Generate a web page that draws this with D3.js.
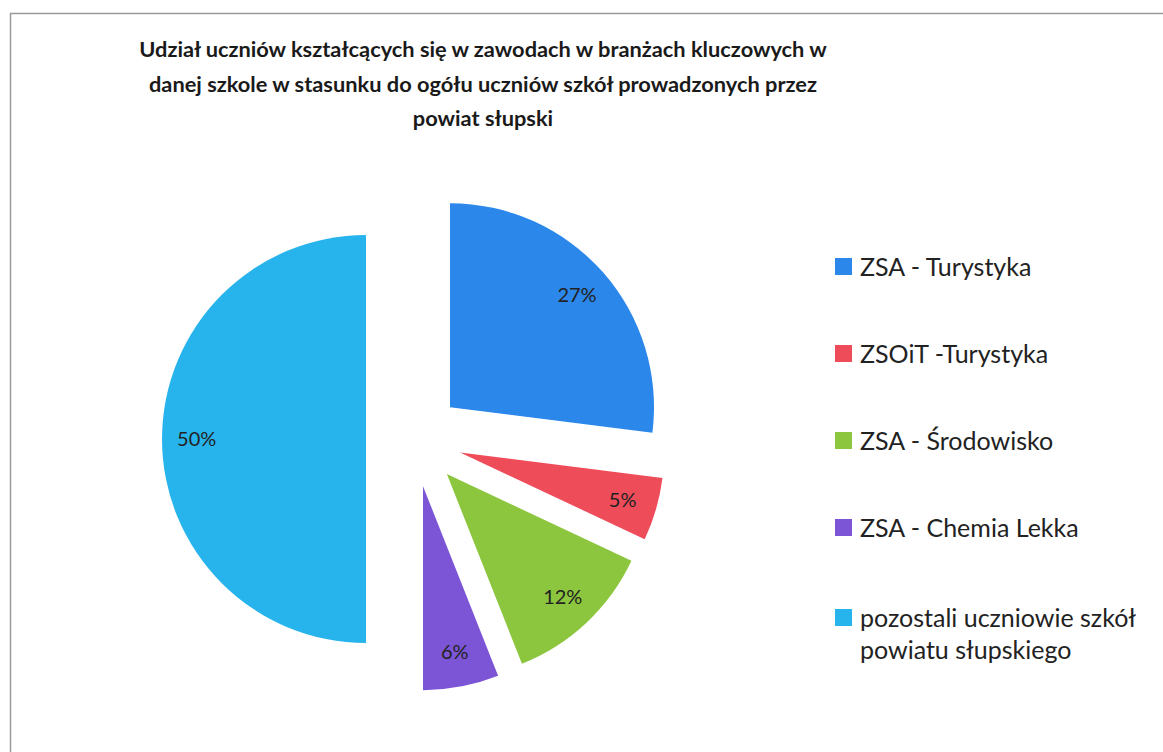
<!DOCTYPE html>
<html>
  <head>
    <meta charset="utf-8">
    <style>
      body { margin: 0; background: #fff; }
      text { font-family: Lato, "Open Sans", sans-serif; }
    </style>
  </head>
  <body>
    <script src="https://d3js.org/d3.v7.min.js"></script>
    <script>
      // chart data
      var categories = ["ZSA - Turystyka", "ZSOiT -Turystyka", "ZSA - Środowisko",
                        "ZSA - Chemia Lekka", "pozostali uczniowie szkół powiatu słupskiego"];
      var values = [27, 5, 12, 6, 50];
      var labels = ["27%", "5%", "12%", "6%", "50%"];
      var colours = ["#2b88ea", "#ef4c5a", "#8cc63e", "#7c55d6", "#27b4ec"];
      var titleLines = ["Udział uczniów kształcących się w zawodach w branżach kluczowych w",
                        "danej szkole w stasunku do ogółu uczniów szkół prowadzonych przez",
                        "powiat słupski"];

      var w = 1163, h = 752;
      var cx = 414, cy = 439, r = 204, explode = 48;

      var svg = d3.select("body").append("svg")
        .attr("width", w)
        .attr("height", h);

      // chart frame
      svg.append("rect")
        .attr("x", 10.5).attr("y", 13.5)
        .attr("width", w).attr("height", h)
        .attr("fill", "none")
        .attr("stroke", "#9a9a9a")
        .attr("stroke-width", 1.5);

      // title
      svg.append("g").selectAll("text")
        .data(titleLines)
        .enter().append("text")
        .attr("x", 483)
        .attr("y", function(d, i) { return 57 + i * 34.5; })
        .attr("text-anchor", "middle")
        .attr("font-size", 21.8)
        .attr("font-weight", "bold")
        .attr("fill", "#1a1a1a")
        .text(function(d) { return d; });

      // pie
      var pie = d3.pie().sort(null).value(function(d) { return d; });
      var arcs = pie(values);
      var arc = d3.arc().innerRadius(0).outerRadius(r);

      function offset(d, dist) {
        var a = (d.startAngle + d.endAngle) / 2;
        return [dist * Math.sin(a), -dist * Math.cos(a)];
      }

      var slices = svg.append("g")
        .attr("transform", "translate(" + cx + "," + cy + ")")
        .selectAll("g")
        .data(arcs)
        .enter().append("g")
        .attr("transform", function(d) {
          var o = offset(d, explode);
          return "translate(" + o[0] + "," + o[1] + ")";
        });

      slices.append("path")
        .attr("d", arc)
        .attr("fill", function(d, i) { return colours[i]; });

      slices.append("text")
        .attr("x", function(d) { return offset(d, 0.83 * r)[0]; })
        .attr("y", function(d) { return offset(d, 0.83 * r)[1]; })
        .attr("dy", "0.35em")
        .attr("text-anchor", "middle")
        .attr("font-size", 20)
        .attr("fill", "#222")
        .text(function(d, i) { return labels[i]; });

      // legend
      var legendY = [267, 354, 441, 528, 618];
      var legend = svg.append("g").selectAll("g")
        .data(categories)
        .enter().append("g")
        .attr("transform", function(d, i) { return "translate(835," + legendY[i] + ")"; });

      legend.append("rect")
        .attr("x", 0).attr("y", -9)
        .attr("width", 17).attr("height", 17)
        .attr("fill", function(d, i) { return colours[i]; });

      legend.append("text")
        .attr("x", 25)
        .attr("font-size", 25)
        .attr("fill", "#222")
        .each(function(d) {
          var t = d3.select(this);
          var lines = d === categories[4]
            ? ["pozostali uczniowie szkół", "powiatu słupskiego"]
            : [d];
          lines.forEach(function(l, j) {
            t.append("tspan")
              .attr("x", 25)
              .attr("dy", j === 0 ? "0.35em" : "1.28em")
              .text(l);
          });
        });
    </script>
  </body>
</html>
